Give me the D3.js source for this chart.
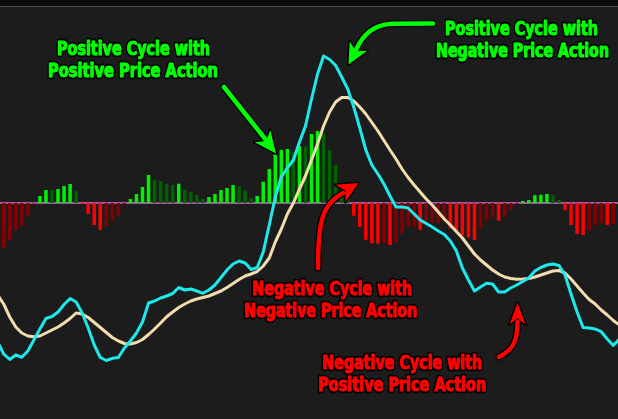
<!DOCTYPE html>
<html>
<head>
<meta charset="utf-8">
<script src="https://cdn.jsdelivr.net/npm/d3@7"></script>
<style>
  html, body { margin: 0; padding: 0; background: #1c1c1c; }
  svg { display: block; }
</style>
</head>
<body>
<div id="chart"></div>
<script>
// histogram (cycle oscillator), one value per bar
var histogram = [
  -45, -37.7, -27, -22.7, -12.7, -0.5, 7, 13, 12.8, 14,
  17, 19, 11.7, -1, -11, -22, -27, -23.7, -17.7, -12.7,
  -1.3, 4, 9, 16, 28, 23, 22, 19.3, 18, 19.3,
  13, 11, 8, 4, 6, 9, 13, 15, 18, 16.5,
  12.3, 5, 7, 21.3, 34, 49.7, 53, 54, 50.7, 57,
  56.5, 69, 72, 69.7, 53, 38, 20.3, 7, -12.7, -24,
  -36.7, -40.3, -40.6, -40.3, -42, -39.7, -30.7, -23.7, -23.5, -26.7,
  -20.5, -20.3, -20.1, -19, -25.3, -29.5, -32.5, -34.5, -37, -25.5,
  -18, -14.7, -17.7, -13.5, -7, -1.5, 2, 3, 7.8, 8.2,
  9, 8, 3, -7, -22, -31, -32, -27, -22, -19.7,
  -22, -21
];

// price lines, one value per bar, starting one bar before the first bar
var fastLine = [
  77, 65, 59.5, 64, 61.7, 68, 79, 90, 100.5, 102.5,
  107, 114.5, 120.5, 117, 106, 91, 74, 61.5, 58.5, 60.7,
  61.5, 71, 78, 86, 97, 116, 118, 121, 123, 125.5,
  131.5, 129, 130, 128, 125.7, 129, 134, 141.5, 149, 155,
  158, 156, 149.5, 151.5, 167, 194, 222, 242, 251, 259,
  277, 293, 320, 345, 363, 359.5, 353.5, 342, 330, 312,
  291, 269, 254, 245, 235, 223, 212, 212, 211, 205,
  199, 195.5, 192, 188, 184.5, 178, 168, 151, 139, 128,
  132, 135.7, 135, 127, 127, 131, 134, 137.5, 141, 148,
  151.5, 154, 155, 153.5, 144, 125, 107, 91.5, 91, 90,
  87.3, 80, 73.5, 80
];
var slowLine = [
  124, 115, 102, 92, 86, 83, 82.3, 83, 86, 89,
  92, 96, 100.5, 106, 105, 101.5, 96.5, 91.5, 86.5, 81.5,
  78, 75.5, 75, 76.5, 79.5, 84.5, 90, 96, 102.3, 107,
  111.5, 115, 118, 120, 121.5, 123, 125.5, 128, 131.5, 135.5,
  139.5, 143, 145, 147.5, 153, 161, 177, 190, 205, 216,
  230, 243, 259, 275, 293, 307, 317, 321.5, 321.5, 318,
  312, 305, 296.5, 288, 278.5, 269, 260, 250, 241.5, 234,
  227, 220, 214, 207, 200, 194, 187.5, 181, 173, 165,
  159, 154, 149, 145, 142, 140.5, 139.7, 140, 140.5, 142,
  144, 146, 148, 148.5, 146, 140, 133, 126, 119.5, 115,
  109, 104, 98.5, 94
];

// annotation texts
var greenNotes = [
  ['Positive Cycle with', 'Positive Price Action'],
  ['Positive Cycle with', 'Negative Price Action']
];
var redNotes = [
  ['Negative Cycle with', 'Negative Price Action'],
  ['Negative Cycle with', 'Positive Price Action']
];

var width = 618, height = 419;

var svg = d3.select('#chart').append('svg')
            .attr('width', width).attr('height', height);

svg.append('rect').attr('width', width).attr('height', height).attr('fill', '#1c1c1c');
svg.append('rect').attr('width', width).attr('height', 6).attr('fill', '#0c0c0c');
svg.append('line').attr('x1', 0).attr('x2', width).attr('y1', 6.5).attr('y2', 6.5)
   .attr('stroke', '#4e4e4e').attr('stroke-width', 1);

var x = d3.scaleLinear().domain([0, histogram.length - 1]).range([3.7, 613.3]);
var step = x(1) - x(0);
var hy = d3.scaleLinear().domain([-100, 100]).range([303, 103]);
var py = d3.scaleLinear().domain([0, 419]).range([419, 0]);

// zero line
svg.append('line')
   .attr('x1', 0).attr('x2', width)
   .attr('y1', hy(0)).attr('y2', hy(0))
   .attr('stroke', '#cc6fd0').attr('stroke-width', 1.3);

function barColor(v, i) {
  var prev = i > 0 ? histogram[i - 1] : undefined;
  if (v >= 0) return (prev === undefined || v >= prev) ? '#00f000' : '#006200';
  return (prev === undefined || v > prev) ? '#840000' : '#ff0000';
}

var barW = step * 0.58;
svg.append('g').selectAll('rect').data(histogram).enter()
   .append('rect')
   .attr('x', function(d, i) { return x(i) - barW / 2; })
   .attr('y', function(d) { return Math.min(hy(d), hy(0)); })
   .attr('width', barW)
   .attr('height', function(d) { return Math.abs(hy(d) - hy(0)); })
   .attr('fill', barColor);

var line = d3.line()
  .x(function(d, i) { return x(i - 1); })
  .y(function(d) { return py(d); });

svg.append('path').datum(slowLine)
   .attr('d', line).attr('fill', 'none')
   .attr('stroke', '#f3dcae').attr('stroke-width', 3)
   .attr('stroke-linejoin', 'round');

svg.append('path').datum(fastLine)
   .attr('d', line).attr('fill', 'none')
   .attr('stroke', '#1ce9ec').attr('stroke-width', 3)
   .attr('stroke-linejoin', 'round');

// arrows
function arrowHead(tx, ty, dx, dy, len, half) {
  var n = Math.sqrt(dx * dx + dy * dy);
  dx /= n; dy /= n;
  var bx = tx - dx * len, by = ty - dy * len;
  var px = -dy, pyy = dx;
  var pts = [
    [tx, ty],
    [bx + px * half, by + pyy * half],
    [tx - dx * len * 0.72, ty - dy * len * 0.72],
    [bx - px * half, by - pyy * half]
  ];
  return 'M' + pts.map(function(p) { return p[0] + ',' + p[1]; }).join('L') + 'Z';
}

function arrow(shaft, head, color) {
  var g = svg.append('g');
  g.append('path').attr('d', shaft).attr('fill', 'none')
   .attr('stroke', '#000').attr('stroke-width', 7).attr('stroke-linecap', 'round');
  g.append('path').attr('d', head).attr('fill', '#000')
   .attr('stroke', '#000').attr('stroke-width', 3).attr('stroke-linejoin', 'round');
  g.append('path').attr('d', shaft).attr('fill', 'none')
   .attr('stroke', color).attr('stroke-width', 4.5).attr('stroke-linecap', 'round');
  g.append('path').attr('d', head).attr('fill', color);
}

arrow('M224,87L266,140', arrowHead(276, 153.5, 52, 66.5, 22, 10), '#00ff00');
arrow('M433,23.5L392,23.8C375,24.5 363,34 356,50', arrowHead(348.5, 64.5, -9.5, 17.5, 21, 10), '#00ff00');
arrow('M318,268C318,222 322,204 343,193', arrowHead(358.5, 183, 17.5, -10, 21, 10), '#ff0000');
arrow('M499,357C512,350 517.5,343 517.5,322', arrowHead(517.5, 302.5, 0, -1, 22, 8), '#ff0000');

// annotation text: [left x, baseline y, width] per line
var notePlaces = {
  green: [
    [[57, 55, 153], [48, 77, 170]],
    [[445, 35, 153], [436, 56.5, 173]]
  ],
  red: [
    [[252, 295, 160], [244, 317, 173]],
    [[322, 368.5, 160], [318, 391, 168]]
  ]
};

function note(lines, places, color) {
  lines.forEach(function(t, k) {
    var p = places[k];
    svg.append('text')
       .attr('x', p[0]).attr('y', p[1])
       .attr('textLength', p[2]).attr('lengthAdjust', 'spacingAndGlyphs')
       .attr('font-family', "'Liberation Sans Narrow', 'DejaVu Sans Condensed', 'Liberation Sans', sans-serif")
       .attr('font-size', 20).attr('font-weight', 'bold')
       .attr('fill', color)
       .attr('stroke', '#000').attr('stroke-width', 4.5)
       .attr('stroke-linejoin', 'round')
       .attr('paint-order', 'stroke')
       .text(t);
    svg.append('text')
       .attr('x', p[0]).attr('y', p[1])
       .attr('textLength', p[2]).attr('lengthAdjust', 'spacingAndGlyphs')
       .attr('font-family', "'Liberation Sans Narrow', 'DejaVu Sans Condensed', 'Liberation Sans', sans-serif")
       .attr('font-size', 20).attr('font-weight', 'bold')
       .attr('fill', color)
       .attr('stroke', color).attr('stroke-width', 0.8)
       .text(t);
  });
}

greenNotes.forEach(function(n, i) { note(n, notePlaces.green[i], '#00ff00'); });
redNotes.forEach(function(n, i) { note(n, notePlaces.red[i], '#ff0000'); });
</script>
</body>
</html>
